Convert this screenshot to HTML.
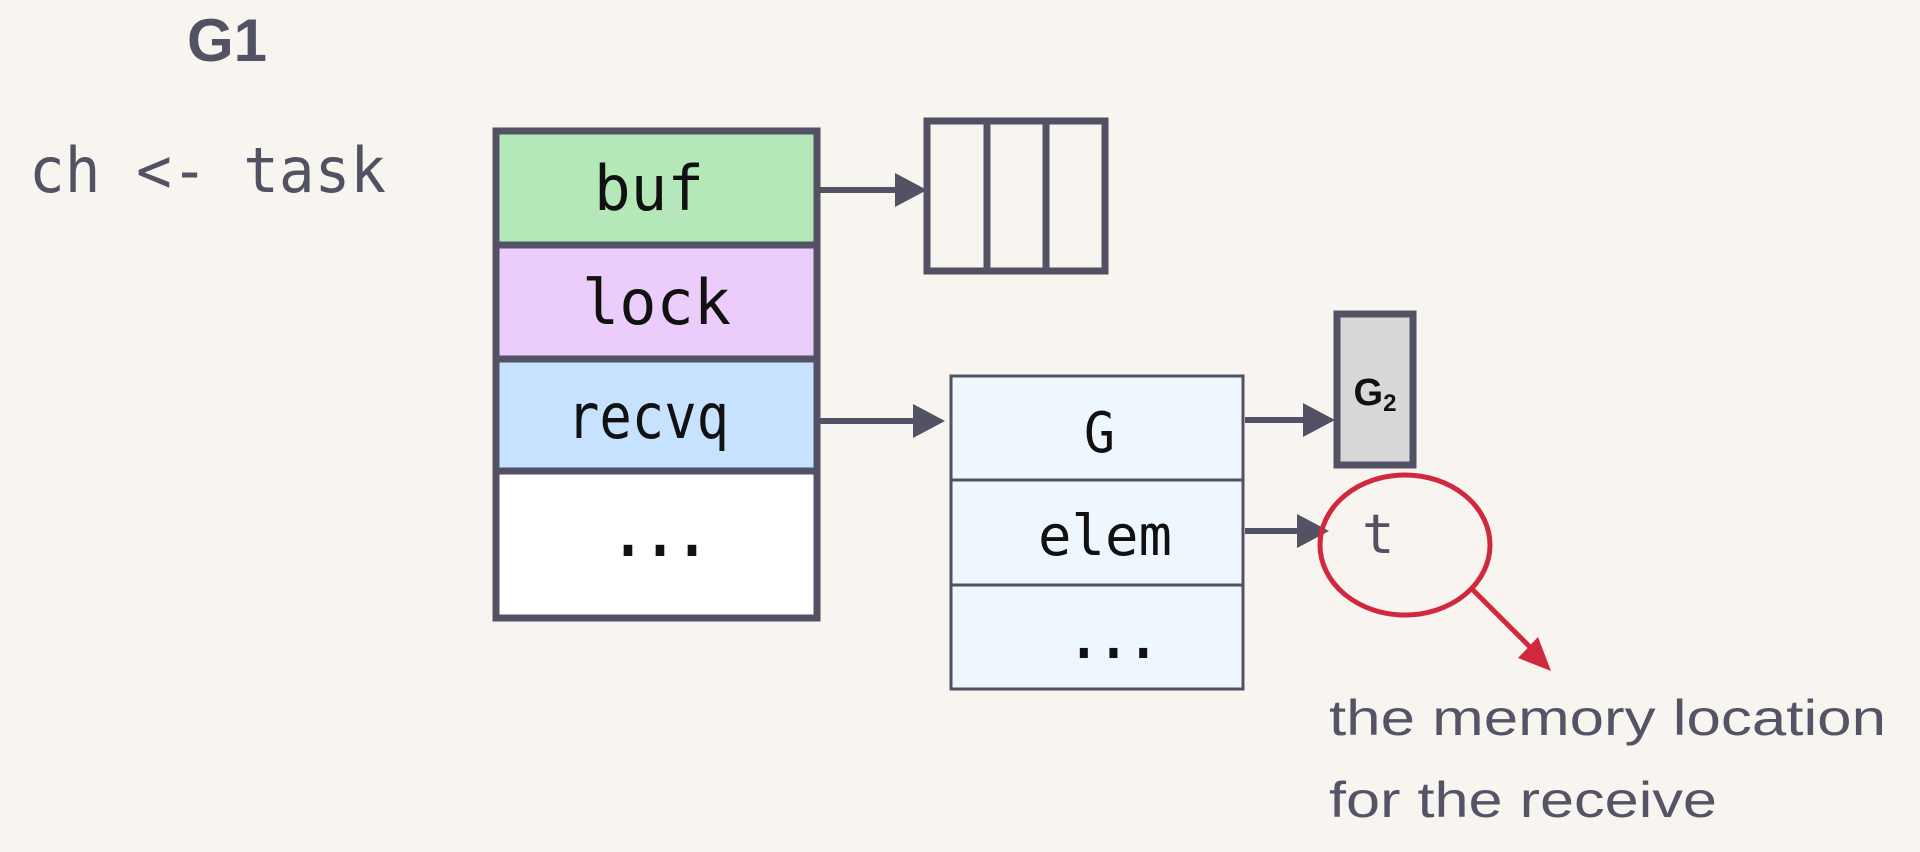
<!DOCTYPE html>
<html><head><style>html,body{margin:0;padding:0;background:#f8f5f0;}svg{display:block}</style></head>
<body>
<svg width="1920" height="852" viewBox="0 0 1920 852" xmlns="http://www.w3.org/2000/svg">
<rect width="1920" height="852" fill="#f8f5f0"/>
<text x="227" y="61" font-family="Liberation Sans, sans-serif" font-weight="bold" font-size="60" fill="#525264" text-anchor="middle">G1</text>
<text x="29" y="192" font-family="DejaVu Sans Mono, Liberation Mono, monospace" font-size="62" fill="#525264" textLength="357" lengthAdjust="spacingAndGlyphs">ch &lt;- task</text>
<g stroke="#525264" stroke-width="7">
<rect x="496" y="131" width="321" height="114" fill="#b4e8b8"/>
<rect x="496" y="245" width="321" height="114" fill="#ecccfa"/>
<rect x="496" y="359" width="321" height="112" fill="#c6e2fe"/>
<rect x="496" y="471" width="321" height="147" fill="#ffffff"/>
<rect x="927" y="121" width="178" height="150" fill="none"/>
<line x1="987" y1="121" x2="987" y2="271"/>
<line x1="1046" y1="121" x2="1046" y2="271"/>
<rect x="1337" y="314" width="76" height="151" fill="#d8d8d8"/>
</g>
<g font-family="DejaVu Sans Mono, Liberation Mono, monospace" font-size="62" fill="#111">
<text x="594" y="210" textLength="110" lengthAdjust="spacingAndGlyphs">buf</text>
<text x="582" y="324" textLength="149" lengthAdjust="spacingAndGlyphs">lock</text>
<text x="567" y="438" textLength="162" lengthAdjust="spacingAndGlyphs">recvq</text>
<text x="612" y="556" textLength="96" lengthAdjust="spacingAndGlyphs" font-weight="bold">...</text>
</g>
<g stroke="#525264" stroke-width="3" fill="#eff7fe">
<rect x="951" y="376" width="292" height="104"/>
<rect x="951" y="480" width="292" height="105"/>
<rect x="951" y="585" width="292" height="104"/>
</g>
<g font-family="DejaVu Sans Mono, Liberation Mono, monospace" font-size="56" fill="#111">
<text x="1084" y="452" textLength="31" lengthAdjust="spacingAndGlyphs">G</text>
<text x="1038" y="555" textLength="134" lengthAdjust="spacingAndGlyphs">elem</text>
<text x="1069" y="658" textLength="89" lengthAdjust="spacingAndGlyphs" font-weight="bold">...</text>
</g>
<text x="1375" y="405" font-family="Liberation Sans, sans-serif" font-weight="bold" font-size="38" fill="#111" text-anchor="middle">G<tspan font-size="24" dy="6">2</tspan></text>
<g stroke="#525264" stroke-width="6">
<line x1="817" y1="190" x2="900" y2="190"/>
<line x1="817" y1="421" x2="918" y2="421"/>
<line x1="1245" y1="420" x2="1308" y2="420"/>
<line x1="1245" y1="531" x2="1302" y2="531"/>
</g>
<g fill="#525264">
<polygon points="895,173 927,190 895,207"/>
<polygon points="913,404 945,421 913,438"/>
<polygon points="1303,403 1335,420 1303,437"/>
<polygon points="1297,514 1329,531 1297,548"/>
</g>
<text x="1362" y="553" font-family="DejaVu Sans Mono, Liberation Mono, monospace" font-size="54" fill="#525264">t</text>
<ellipse cx="1405" cy="545" rx="85" ry="70" fill="none" stroke="#d0283e" stroke-width="5"/>
<line x1="1473" y1="590" x2="1535" y2="652" stroke="#d0283e" stroke-width="5"/>
<polygon points="1551,671 1518,658 1538,637" fill="#d0283e"/>
<g font-family="Liberation Sans, sans-serif" font-size="50" fill="#555466">
<text x="1329" y="735" textLength="557" lengthAdjust="spacingAndGlyphs">the memory location</text>
<text x="1329" y="817" textLength="388" lengthAdjust="spacingAndGlyphs">for the receive</text>
</g>
</svg>
</body></html>
